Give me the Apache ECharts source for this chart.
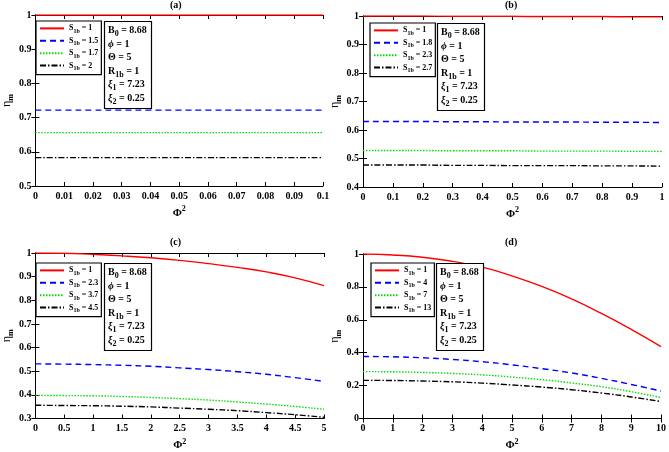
<!DOCTYPE html>
<html>
<head>
<meta charset="utf-8">
<script src="https://cdn.jsdelivr.net/npm/echarts@6/dist/echarts.min.js"></script>
<style>
  html, body { margin: 0; padding: 0; background: #fff; }
  #chart { width: 669px; height: 452px; }
</style>
</head>
<body>
<div id="chart"></div>
<script>
// x samples (Phi^2) for each panel
var xA = [0, 0.01, 0.02, 0.03, 0.04, 0.05, 0.06, 0.07, 0.08, 0.09, 0.1];
var xB = [0, 0.1, 0.2, 0.3, 0.4, 0.5, 0.6, 0.7, 0.8, 0.9, 1];
var xC = [0, 0.5, 1, 1.5, 2, 2.5, 3, 3.5, 4, 4.5, 5];
var xD = [0, 1, 2, 3, 4, 5, 6, 7, 8, 9, 10];

// S1b values in each legend
var sA = ["1", "1.5", "1.7", "2"];
var sB = ["1", "1.8", "2.3", "2.7"];
var sC = ["1", "2.3", "3.7", "4.5"];
var sD = ["1", "4", "7", "13"];

// eta_m
var aRed = [1, 1, 1, 1, 1, 1, 1, 1, 1, 1, 1];
var aBlue = [0.722, 0.722, 0.722, 0.722, 0.722, 0.722, 0.722, 0.722, 0.722, 0.722, 0.722];
var aGreen = [0.656, 0.656, 0.656, 0.656, 0.656, 0.656, 0.656, 0.656, 0.656, 0.656, 0.656];
var aBlack = [0.583, 0.583, 0.583, 0.583, 0.583, 0.583, 0.583, 0.583, 0.583, 0.583, 0.583];

var bRed = [1, 1, 1, 0.999, 0.999, 0.999, 0.998, 0.998, 0.998, 0.997, 0.997];
var bBlue = [0.630, 0.630, 0.630, 0.629, 0.629, 0.628, 0.628, 0.628, 0.627, 0.627, 0.626];
var bGreen = [0.528, 0.528, 0.528, 0.527, 0.527, 0.527, 0.526, 0.526, 0.526, 0.525, 0.525];
var bBlack = [0.477, 0.477, 0.477, 0.476, 0.476, 0.475, 0.475, 0.475, 0.474, 0.474, 0.473];

var cRed = [1, 0.999, 0.994, 0.988, 0.980, 0.969, 0.955, 0.939, 0.920, 0.895, 0.862];
var cBlue = [0.531, 0.530, 0.528, 0.525, 0.521, 0.514, 0.507, 0.498, 0.487, 0.473, 0.457];
var cGreen = [0.398, 0.397, 0.396, 0.393, 0.389, 0.384, 0.378, 0.370, 0.361, 0.351, 0.339];
var cBlack = [0.356, 0.355, 0.354, 0.352, 0.349, 0.344, 0.339, 0.333, 0.325, 0.316, 0.305];

var dRed = [1, 0.994, 0.980, 0.955, 0.920, 0.867, 0.803, 0.727, 0.639, 0.542, 0.437];
var dBlue = [0.377, 0.375, 0.369, 0.359, 0.345, 0.326, 0.303, 0.277, 0.244, 0.207, 0.167];
var dGreen = [0.285, 0.284, 0.280, 0.274, 0.265, 0.252, 0.236, 0.216, 0.193, 0.163, 0.127];
var dBlack = [0.232, 0.231, 0.228, 0.223, 0.215, 0.204, 0.191, 0.175, 0.155, 0.131, 0.103];

var FONT = "Liberation Serif";

var panels = [
    { tag: "a", xs: xA, s: sA, ys: [aRed, aBlue, aGreen, aBlack],
      grid: { left: 29, top: 15, width: 294, height: 171 },
      x: [0, 0.1, 0.01], y: [0.5, 1, 0.1],
      legend: [36, 21], box: [104, 21], title: [170, 0] },
    { tag: "b", xs: xB, s: sB, ys: [bRed, bBlue, bGreen, bBlack],
      grid: { left: 363, top: 16, width: 299, height: 171 },
      x: [0, 1, 0.1], y: [0.4, 1, 0.1],
      legend: [370, 23], box: [437, 23], title: [505, 0] },
    { tag: "c", xs: xC, s: sC, ys: [cRed, cBlue, cGreen, cBlack],
      grid: { left: 29, top: 253, width: 295, height: 172 },
      x: [0, 5, 0.5], y: [0.3, 1, 0.1],
      legend: [36, 263], box: [104, 263], title: [170, 237] },
    { tag: "d", xs: xD, s: sD, ys: [dRed, dBlue, dGreen, dBlack],
      grid: { left: 363, top: 254, width: 302, height: 171 },
      x: [0, 10, 1], y: [0, 1, 0.2],
      legend: [371, 263], box: [436, 263], title: [505, 237] }
];

var lineStyles = [
    { color: "#ff0000", type: "solid", width: 1.4 },
    { color: "#0000ff", type: [6, 4], width: 1.4 },
    { color: "#00e000", type: [1.5, 1.5], width: 1.4 },
    { color: "#000000", type: [6, 2, 1.5, 2], width: 1.4 }
];

var labelStyle = { fontFamily: FONT, fontWeight: "bold", fontSize: 10, color: "#000" };
var richSub = {
    s: { fontFamily: FONT, fontWeight: "bold", fontSize: 8, color: "#000" },
    sub: { fontFamily: FONT, fontWeight: "bold", fontSize: 6, color: "#000", padding: [6, 0, 0, 0] },
    t: { fontFamily: FONT, fontWeight: "bold", fontSize: 10, color: "#000" },
    tsub: { fontFamily: FONT, fontWeight: "bold", fontSize: 8, color: "#000", padding: [7, 0, 0, 0] },
    i: { fontFamily: FONT, fontWeight: "bold", fontStyle: "italic", fontSize: 10, color: "#000" }
};

var legendLabel = {};
var option = {
    animation: false,
    backgroundColor: "#fff",
    grid: [], xAxis: [], yAxis: [], series: [], legend: [], title: []
};

panels.forEach(function (p, k) {
    option.grid.push(p.grid);
    var xBase = { type: "value", gridIndex: k, min: p.x[0], max: p.x[1], interval: p.x[2],
        splitLine: { show: false },
        axisLine: { lineStyle: { color: "#000", width: 1 } },
        axisTick: { inside: true, length: 4, lineStyle: { color: "#000" } } };
    option.xAxis.push(Object.assign({}, xBase, {
        position: "bottom",
        axisLabel: Object.assign({ margin: 5 }, labelStyle),
        name: "{t|Φ}{sup|2}", nameLocation: "middle", nameGap: 19,
        nameTextStyle: { rich: {
            t: { fontFamily: FONT, fontWeight: "bold", fontSize: 11, color: "#000" },
            sup: { fontFamily: FONT, fontWeight: "bold", fontSize: 8, color: "#000", padding: [0, 0, 8, 0] } } }
    }));
    option.xAxis.push(Object.assign({}, xBase, { position: "top", axisLabel: { show: false } }));

    var yBase = { type: "value", gridIndex: k, min: p.y[0], max: p.y[1], interval: p.y[2],
        splitLine: { show: false },
        axisLine: { lineStyle: { color: "#000", width: 1 } },
        axisTick: { inside: true, length: 4, lineStyle: { color: "#000" } } };
    option.yAxis.push(Object.assign({}, yBase, {
        position: "left",
        axisLabel: Object.assign({ margin: 4 }, labelStyle),
        name: "{t|η}{sub|m}", nameLocation: "middle", nameGap: 17, nameRotate: 90,
        nameTextStyle: { rich: {
            t: { fontFamily: FONT, fontSize: 12, color: "#000" },
            sub: { fontFamily: FONT, fontWeight: "bold", fontSize: 8, color: "#000", padding: [8, 0, 0, 0] } } }
    }));
    option.yAxis.push(Object.assign({}, yBase, { position: "right", axisLabel: { show: false } }));

    var names = [];
    p.ys.forEach(function (vals, j) {
        var name = p.tag + j;
        names.push(name);
        legendLabel[name] = p.s[j];
        option.series.push({
            name: name, type: "line", xAxisIndex: 2 * k, yAxisIndex: 2 * k,
            symbol: "none", smooth: 0.5,
            lineStyle: lineStyles[j], itemStyle: { color: lineStyles[j].color },
            data: p.xs.map(function (x, i) { return [x, vals[i]]; })
        });
    });

    option.legend.push({
        data: names, orient: "vertical", left: p.legend[0], top: p.legend[1],
        padding: [3, 3, 3, 3], itemGap: 2, itemWidth: 24, itemHeight: 11,
        borderColor: "#000", borderWidth: 1.2, backgroundColor: "#fff",
        selectedMode: false,
        itemStyle: { opacity: 0 },
        formatter: function (n) { return "{s|S}{sub|1b}{s| = " + legendLabel[n] + "}"; },
        textStyle: { rich: richSub }
    });

    option.title.push({
        text: "(" + p.tag + ")", left: p.title[0], top: p.title[1], padding: 0,
        textStyle: { fontFamily: FONT, fontWeight: "bold", fontSize: 10, color: "#000" }
    });
    option.title.push({
        text: "{t|B}{tsub|0}{t| = 8.68}\n{i|ϕ}{t| = 1}\n{t|Θ = 5}\n{t|R}{tsub|1b}{t| = 1}\n{i|ξ}{tsub|1}{t| = 7.23}\n{i|ξ}{tsub|2}{t| = 0.25}",
        left: p.box[0], top: p.box[1], padding: [3, 5, 3, 4],
        borderColor: "#000", borderWidth: 1.2, backgroundColor: "#fff",
        textStyle: { lineHeight: 13.5, rich: richSub }
    });
});

var chart = echarts.init(document.getElementById("chart"));
chart.setOption(option);
</script>
</body>
</html>
